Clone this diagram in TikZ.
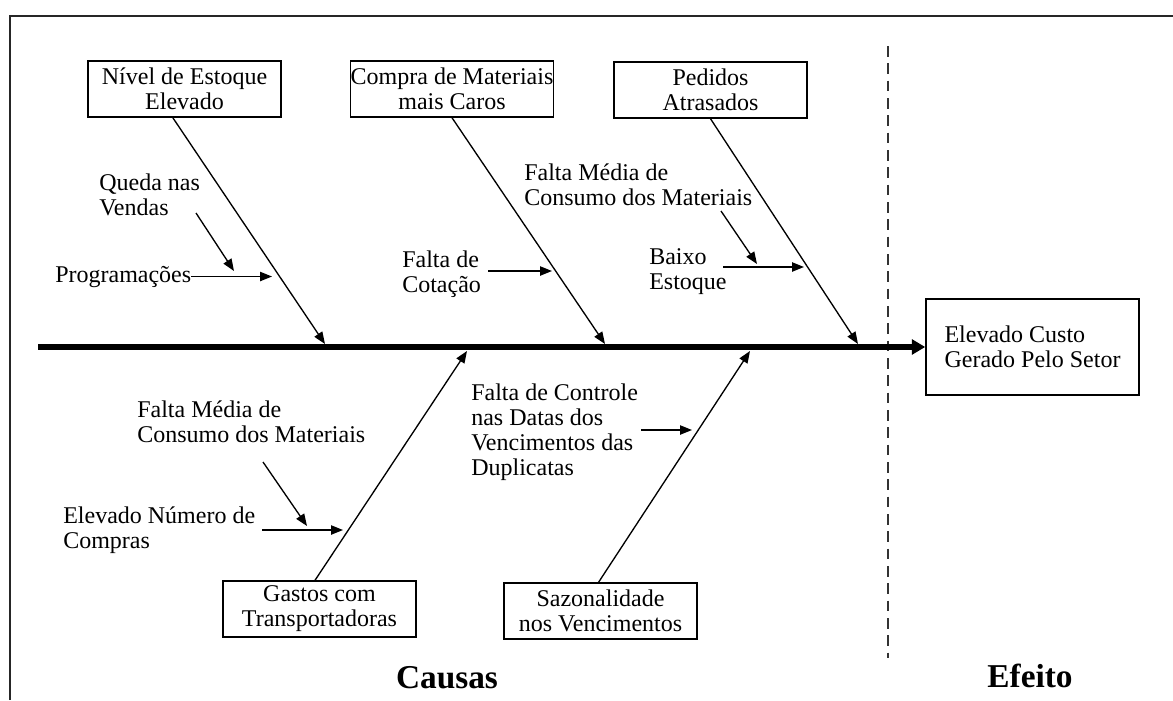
\documentclass[tikz,border=0pt]{standalone}
\usepackage{fontspec}
\setmainfont{Liberation Serif}
\usetikzlibrary{arrows.meta,calc}
\begin{document}
\begin{tikzpicture}[x=0.75pt,y=-0.75pt,
  txt/.style={font=\fontsize{18}{18.75}\selectfont, inner sep=0pt, align=left, anchor=base west},
  causebox/.style={draw, line width=1.1pt, inner sep=0pt, minimum width=144.75pt,
    minimum height=42pt, align=center, font=\fontsize{18}{18.75}\selectfont},
  bone/.style={line width=1pt, -{Triangle[length=9pt,width=7pt]}},
  sub/.style={line width=1pt, -{Triangle[length=9pt,width=7pt]}},
  title/.style={font=\fontsize{25}{27}\selectfont\bfseries, inner sep=0pt, anchor=base}]
\useasboundingbox (0,0) rectangle (1173,700);

% outer frame (top and left edges)
\draw[line width=1.5pt, black!85] (10,700) -- (10,16) -- (1173,16);

% separator between causes and effect
\draw[line width=1.3pt, black!80, dash pattern=on 8pt off 5pt] (888,46) -- (888,658);

% effect box and spine
\node[draw, line width=1.1pt, inner sep=0pt, minimum width=159.75pt, minimum height=72pt,
  align=left, font=\fontsize{18}{18.75}\selectfont] (eff) at (1032.5,347)
  {Elevado Custo\\Gerado Pelo Setor};
\coordinate (spineL) at (38,347);
\draw[line width=4.2pt, -{Triangle[length=10pt,width=11pt]}] (spineL) -- (eff.west);

% main causes
\node[causebox] (b1) at (184.5,89) {Nível de Estoque\\Elevado};
\node[causebox, minimum width=151.5pt] (b2) at (452,89) {Compra de Materiais\\mais Caros};
\node[causebox] (b3) at (710.5,90) {Pedidos\\Atrasados};
\node[causebox] (b4) at (319.5,609) {Gastos com\\Transportadoras};
\node[causebox] (b5) at (600.5,611) {Sazonalidade\\nos Vencimentos};

% points where the bones meet the spine
\coordinate (t1) at (325,344);
\coordinate (t2) at (605,344);
\coordinate (t3) at (858,344);
\coordinate (t4) at (467,351);
\coordinate (t5) at (750,351);

\draw[bone] ($(b1.south west)!0.44!(b1.south east)$) -- (t1);
\draw[bone] (b2.south) -- (t2);
\draw[bone] (b3.south) -- (t3);
\draw[bone] ($(b4.north west)!0.477!(b4.north east)$) -- (t4);
\draw[bone] ($(b5.north west)!0.49!(b5.north east)$) -- (t5);

% secondary causes (placed by the baseline of their last line)
\node[txt] (queda) at (99,215) {Queda nas\\Vendas};
\node[txt] (prog) at (55,282) {Programações};
\node[txt] (fm1) at (524,205) {Falta Média de\\Consumo dos Materiais};
\node[txt] (baixo) at (649,289) {Baixo\\Estoque};
\node[txt] (cot) at (402,292) {Falta de\\Cotação};
\node[txt] (fm2) at (137,442) {Falta Média de\\Consumo dos Materiais};
\node[txt] (enc) at (63,548) {Elevado Número de\\Compras};
\node[txt] (fc) at (471,475) {Falta de Controle\\nas Datas dos\\Vencimentos das\\Duplicatas};

% arrow ends
\coordinate (q0) at (196,213);  \coordinate (q1) at (234,271);
\coordinate (p1) at (272,275);
\coordinate (m0) at (721,211);  \coordinate (m1) at (757,264);
\coordinate (x0) at (723,267);  \coordinate (x1) at (804,267);
\coordinate (c0) at (488,271);  \coordinate (c1) at (552,271);
\coordinate (n0) at (263,462);  \coordinate (n1) at (307,526);
\coordinate (e0) at (262,530);  \coordinate (e1) at (343,530);
\coordinate (d0) at (641,430);  \coordinate (d1) at (692,430);

\draw[sub] (q0) -- (q1);
\draw[sub] (prog.east) -- (prog.east -| p1);
\draw[sub] (m0) -- (m1);
\draw[sub] (x0) -- (x1);
\draw[sub] (c0) -- (c1);
\draw[sub] (n0) -- (n1);
\draw[sub] (e0) -- (e1);
\draw[sub] (d0) -- (d1);

% section titles
\node[title] (causas) at (447,688) {Causas};
\node[title] (efeito) at (1030,687) {Efeito};
\end{tikzpicture}
\end{document}
